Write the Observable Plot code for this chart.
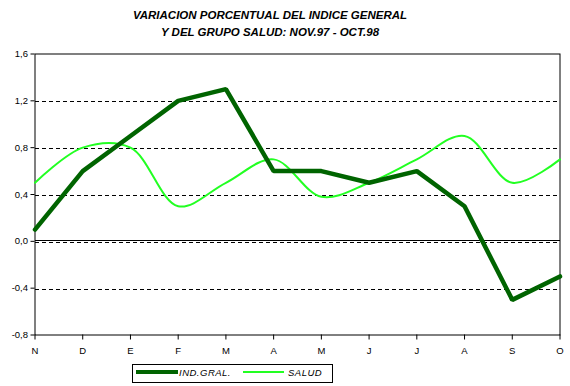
<!DOCTYPE html>
<html>
<head>
<meta charset="utf-8">
<script src="https://cdn.jsdelivr.net/npm/d3@7"></script>
<script src="https://cdn.jsdelivr.net/npm/@observablehq/plot@0.6"></script>
<style>
  html, body { margin: 0; padding: 0; background: #fff; }
  #wrap { position: relative; width: 570px; height: 386px; font-family: "Liberation Sans", Arial, sans-serif; }
  #title { position: absolute; left: 0; top: 7px; width: 540px; text-align: center; font-weight: bold; font-style: italic; font-size: 11.5px; line-height: 17px; color: #000; }
  #chart { position: absolute; left: 0; top: 44px; }
  #legend { position: absolute; left: 132px; top: 364px; width: 199px; height: 17px; border: 1px solid #000; font-style: italic; font-size: 9.5px; }
  .sw { position: absolute; top: 7px; height: 0; }
  .lab { position: absolute; top: 2px; letter-spacing: 0.5px; }
  .crisp line, .crisp rect, .crisp path { shape-rendering: crispEdges; }
</style>
</head>
<body>
<div id="wrap">
  <div id="title">VARIACION PORCENTUAL DEL INDICE GENERAL<br>Y DEL GRUPO SALUD: NOV.97 - OCT.98</div>
  <div id="chart"></div>
  <div id="legend">
    <div class="sw" style="left:3px;width:42px;border-top:4px solid #006400;top:5px"></div>
    <div class="lab" style="left:46px">IND.GRAL.</div>
    <div class="sw" style="left:110px;width:41px;border-top:2px solid #22ff22;top:6px"></div>
    <div class="lab" style="left:155px">SALUD</div>
  </div>
</div>
<script>
const months = ["N","D","E","F","M","A","M","J","J","A","S","O"];
const indGral = [0.1, 0.6, 0.9, 1.2, 1.3, 0.6, 0.6, 0.5, 0.6, 0.3, -0.5, -0.3];
const salud = [0.5, 0.8, 0.8, 0.3, 0.5, 0.7, 0.38, 0.5, 0.7, 0.9, 0.5, 0.7];
const yTicks = [-0.8, -0.4, 0, 0.4, 0.8, 1.2, 1.6];
const gridVals = [-0.4, 0, 0.4, 0.8, 1.2];

const idx = months.map((m, i) => i);
const fmt = d => d.toFixed(1).replace(".", ",");

const chart = Plot.plot({
  width: 570,
  height: 316,
  marginLeft: 34.5,
  marginRight: 10.5,
  marginTop: 9.5,
  marginBottom: 25.5,
  style: { fontFamily: "'Liberation Sans', Arial, sans-serif", fontSize: "9.5px", color: "#000", background: "#fff" },
  x: { domain: [0, 11], ticks: idx, tickFormat: i => months[i], tickSize: 5, tickPadding: 7, label: null },
  y: { domain: [-0.8, 1.6], ticks: yTicks, tickFormat: fmt, tickSize: 4, tickPadding: 3, label: null },
  marks: [
    Plot.ruleY(gridVals, { stroke: "#000", strokeDasharray: "4,3", strokeWidth: 1, dy: 1, className: "crisp" }),
    Plot.ruleY([0], { stroke: "#000", strokeWidth: 1, dy: -1, className: "crisp" }),
    Plot.frame({ stroke: "#000", strokeWidth: 1, className: "crisp" }),
    Plot.line(idx, { x: i => i, y: i => salud[i], stroke: "#22ff22", strokeWidth: 2, curve: "catmull-rom" }),
    Plot.line(idx, { x: i => i, y: i => indGral[i], stroke: "#006400", strokeWidth: 4.5, strokeLinejoin: "miter" })
  ]
});
document.getElementById("chart").appendChild(chart);
</script>
</body>
</html>
